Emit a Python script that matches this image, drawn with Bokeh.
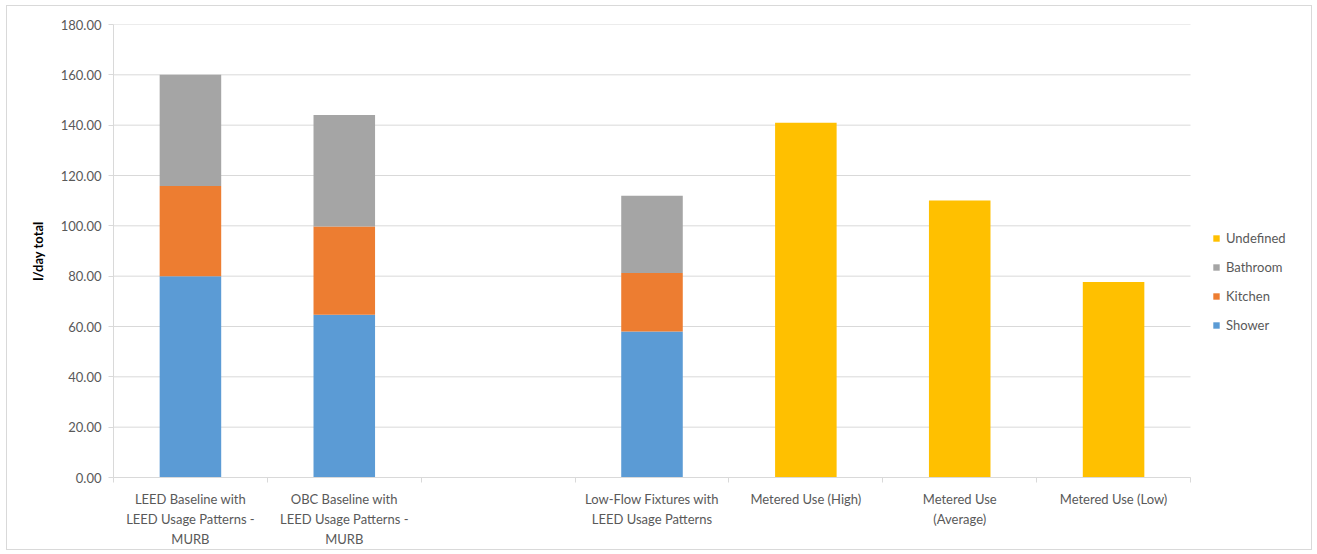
from bokeh.plotting import figure
from bokeh.models import (FixedTicker, Legend, LegendItem, NumeralTickFormatter,
                          Range1d)
from bokeh.embed import file_html
from bokeh.resources import INLINE

categories = [
    "LEED Baseline with\nLEED Usage Patterns -\nMURB",
    "OBC Baseline with\nLEED Usage Patterns -\nMURB",
    "",
    "Low-Flow Fixtures with\nLEED Usage Patterns",
    "Metered Use (High)",
    "Metered Use\n(Average)",
    "Metered Use (Low)",
]
shower = [80.0, 64.7, 0.0, 58.0, 0.0, 0.0, 0.0]
kitchen = [35.8, 35.0, 0.0, 23.3, 0.0, 0.0, 0.0]
bathroom = [44.2, 44.3, 0.0, 30.7, 0.0, 0.0, 0.0]
undefined = [0.0, 0.0, 0.0, 0.0, 141.0, 110.1, 77.7]
series = ["Shower", "Kitchen", "Bathroom", "Undefined"]
colors = ["#5B9BD5", "#ED7D31", "#A5A5A5", "#FFC000"]
y_ticks = [0, 20, 40, 60, 80, 100, 120, 140, 160, 180]

FONT = "Lato"
n = len(categories)
centers = [i + 0.5 for i in range(n)]
bounds = [i for i in range(n + 1)]

# frame spans 1200 px; the category area takes the first 1077 px of it
FRAME_W, CAT_W = 1200, 1077
x_end = n * FRAME_W / CAT_W

p = figure(width=1306, height=545, output_backend="svg", toolbar_location=None,
           x_range=Range1d(0, x_end), y_range=Range1d(0, 180),
           min_border_left=106, min_border_right=0, min_border_top=18,
           min_border_bottom=74)
p.margin = (5, 3, 2, 6)
p.styles = {"border": "1px solid #D9D9D9"}
p.outline_line_color = None
p.background_fill_color = "white"
p.border_fill_color = "white"

# horizontal gridlines limited to the category area
p.xgrid.visible = False
p.ygrid.visible = False
p.segment(x0=[0] * len(y_ticks), x1=[n] * len(y_ticks), y0=y_ticks, y1=y_ticks,
          line_color="#D9D9D9", line_width=1, level="underlay")

data = dict(x=centers, Shower=shower, Kitchen=kitchen, Bathroom=bathroom,
            Undefined=undefined)
rs = p.vbar_stack(series, x="x", width=0.4, color=colors, line_color=None,
                  source=data)

# y axis
ya = p.yaxis[0]
ya.ticker = FixedTicker(ticks=y_ticks, minor_ticks=[])
ya.formatter = NumeralTickFormatter(format="0.00")
ya.axis_line_color = "#D9D9D9"
ya.major_tick_line_color = "#D9D9D9"
ya.major_tick_out = 5
ya.major_tick_in = 0
ya.minor_tick_line_color = None
ya.major_label_text_font = FONT
ya.major_label_text_font_size = "13px"
ya.major_label_text_color = "#595959"
ya.major_label_standoff = 7
ya.axis_label = "l/day total"
ya.axis_label_text_font = FONT
ya.axis_label_text_font_size = "13px"
ya.axis_label_text_font_style = "bold"
ya.axis_label_text_color = "#000000"
ya.axis_label_standoff = 12

# x axis
xa = p.xaxis[0]
xa.bounds = (0, n)
xa.ticker = FixedTicker(ticks=centers, minor_ticks=bounds)
xa.major_label_overrides = {c: lab for c, lab in zip(centers, categories)}
xa.axis_line_color = "#D9D9D9"
xa.major_tick_line_color = None
xa.minor_tick_line_color = "#D9D9D9"
xa.minor_tick_out = 5
xa.minor_tick_in = 0
xa.major_label_text_font = FONT
xa.major_label_text_font_size = "13px"
xa.major_label_text_color = "#595959"
xa.major_label_text_line_height = 1.25
xa.major_label_standoff = 7

items = [LegendItem(label=s, renderers=[r]) for s, r in zip(series, rs)][::-1]
legend = Legend(items=items, location=(1099, 144), orientation="vertical",
                label_text_font=FONT, label_text_font_size="13px",
                label_text_color="#595959", glyph_width=8, glyph_height=8,
                label_height=16, spacing=13, padding=0, margin=0,
                label_standoff=6, border_line_color=None,
                background_fill_alpha=0)
p.add_layout(legend, "center")

open("out.html", "w").write(file_html(p, INLINE))
